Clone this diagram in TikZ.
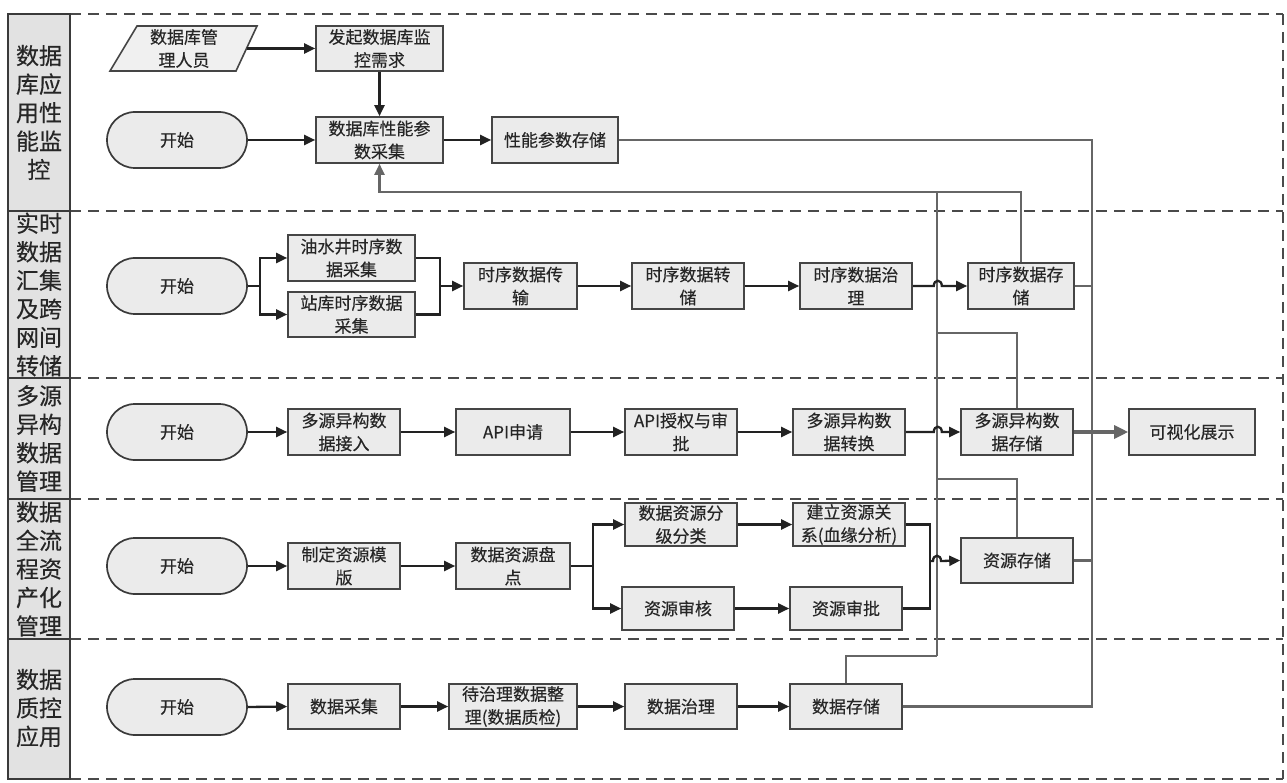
\documentclass[tikz,border=0pt]{standalone}
\usepackage{fontspec}
\setmainfont{Noto Sans CJK SC}[FakeBold=0.3]
\usetikzlibrary{arrows.meta,calc}
\definecolor{boxfill}{HTML}{EBEBEB}
\definecolor{boxline}{HTML}{454545}
\definecolor{txt}{HTML}{262626}
\definecolor{arrc}{HTML}{222222}
\definecolor{fbc}{HTML}{666666}
\definecolor{dashc}{HTML}{4A4A4A}
\definecolor{colfill}{HTML}{E2E2E2}
\definecolor{colline}{HTML}{3A3A3A}
\definecolor{parafill}{HTML}{F0F0F0}
\begin{document}
\begin{tikzpicture}[x=1pt,y=-1pt,
  box/.style={draw=boxline, fill=boxfill, line width=1.6pt, minimum height=46pt,
    inner sep=0pt, align=center, font=\fontsize{17}{23}\selectfont, text=txt},
  startnode/.style={box, rounded corners=28pt, minimum width=140pt, minimum height=56pt,
    line width=1.7pt, draw=colline},
  lanelabel/.style={align=center, inner sep=0pt, font=\fontsize{23}{28.5}\selectfont, text=txt},
  arr/.style={draw=arrc, line width=2.3pt, -{Triangle[length=11pt,width=10pt]}},
  ln/.style={draw=arrc, line width=2.3pt},
  fb/.style={draw=fbc, line width=2.2pt},
  fbarr/.style={fb, -{Triangle[length=11pt,width=10pt]}},
  visarr/.style={draw=fbc, line width=3.2pt, -{Triangle[length=14pt,width=13pt]}},
  lanesep/.style={draw=dashc, line width=2.8pt, dash pattern=on 11pt off 7pt}
]
\useasboundingbox (0,0) rectangle (1287,783);
\fill[white] (0,0) rectangle (1287,783);

% lane frame
\draw[lanesep] (70,14) -- (1283,14);
\draw[lanesep] (70,211) -- (1283,211);
\draw[lanesep] (70,378) -- (1283,378);
\draw[lanesep] (70,499) -- (1283,499);
\draw[lanesep] (70,639) -- (1283,639);
\draw[lanesep] (70,779) -- (1283,779);
\draw[lanesep] (1283,14) -- (1283,779);
\draw[fill=colfill, draw=colline, line width=2pt] (8,14) rectangle (70,779);
\foreach \yy in {211,378,499,639} \draw[draw=colline, line width=2pt] (8,\yy) -- (70,\yy);

% lane labels
\node[lanelabel] (L1) at (39,112.5) {数据\\库应\\用性\\能监\\控};
\node[lanelabel] (L2) at (39,294.5) {实时\\数据\\汇集\\及跨\\网间\\转储};
\node[lanelabel] (L3) at (39,438.5) {多源\\异构\\数据\\管理};
\node[lanelabel] (L4) at (39,569) {数据\\全流\\程资\\产化\\管理};
\node[lanelabel] (L5) at (39,708) {数据\\质控\\应用};

% lane 1
\draw[draw=boxline, fill=parafill, line width=1.6pt] (110,71) -- (137,26) -- (257,26) -- (236,71) -- cycle;
\node[align=center, inner sep=0pt, minimum width=125pt, minimum height=45pt,
  font=\fontsize{17}{23}\selectfont, text=txt] (admin) at (184,48.5) {数据库管\\理人员};
\node[box, minimum width=127pt, minimum height=45pt] (req) at (379.5,48.5) {发起数据库监\\控需求};
\node[startnode] (s1) at (177,140) {开始};
\node[box, minimum width=127pt] (collect) at (379.5,140) {数据库性能参\\数采集};
\node[box, minimum width=126pt] (perfstore) at (555,140) {性能参数存储};

% lane 2
\node[startnode] (s2) at (177,286) {开始};
\node[box, minimum width=127pt] (oilwell) at (351.5,258) {油水井时序数\\据采集};
\node[box, minimum width=127pt, minimum height=45pt] (station) at (351.5,314.5) {站库时序数据\\采集};
\node[box, minimum width=113pt] (tsxfer) at (520.5,286) {时序数据传\\输};
\node[box, minimum width=112pt] (tsdump) at (688,286) {时序数据转\\储};
\node[box, minimum width=112pt] (tsgov) at (856,286) {时序数据治\\理};
\node[box, minimum width=106pt] (tsstore) at (1021,286) {时序数据存\\储};

% lane 3
\node[startnode] (s3) at (177,432) {开始};
\node[box, minimum width=112pt] (msaccess) at (344,432) {多源异构数\\据接入};
\node[box, minimum width=114pt] (apireq) at (513,432) {API申请};
\node[box, minimum width=112pt] (apiauth) at (681,432) {API授权与审\\批};
\node[box, minimum width=112pt] (msconv) at (849,432) {多源异构数\\据转换};
\node[box, minimum width=112pt] (msstore) at (1017,432) {多源异构数\\据存储};
\node[box, minimum width=126pt] (visual) at (1192,432) {可视化展示};

% lane 4
\node[startnode] (s4) at (177,566) {开始};
\node[box, minimum width=112pt] (tmpl) at (344,566) {制定资源模\\版};
\node[box, minimum width=114pt] (inventory) at (513,566) {数据资源盘\\点};
\node[box, minimum width=112pt, minimum height=43pt] (classify) at (681,524.5) {数据资源分\\级分类};
\node[box, minimum width=112pt, minimum height=43pt] (lineage) at (849,524.5) {建立资源关\\系(血缘分析)};
\node[box, minimum width=112pt, minimum height=43pt] (audit) at (678,608.5) {资源审核};
\node[box, minimum width=112pt, minimum height=43pt] (approve) at (846,608.5) {资源审批};
\node[box, minimum width=112pt, minimum height=45pt] (resstore) at (1017,560.5) {资源存储};

% lane 5
\node[startnode] (s5) at (177,707) {开始};
\node[box, minimum width=112pt, minimum height=45pt] (dcollect) at (344,706.5) {数据采集};
\node[box, minimum width=128pt, minimum height=45pt] (organize) at (513,706.5) {待治理数据整\\理(数据质检)};
\node[box, minimum width=112pt, minimum height=45pt] (govern) at (681,706.5) {数据治理};
\node[box, minimum width=112pt, minimum height=45pt] (dstore) at (846,706.5) {数据存储};

% helper coordinates
\coordinate (fbL) at (379.5,192);
\coordinate (fbA) at (937,192);
\coordinate (fbA3) at (937,333);
\coordinate (fbA4) at (937,479);
\coordinate (fbA5) at (937,656);
\coordinate (B1) at (1092,140);
\coordinate (B5) at (1092,706.5);
\coordinate (sp2) at (260,286);
\coordinate (mg2) at (440,286);
\coordinate (sp4) at (593,566);
\coordinate (mg4) at (930,561);

% feedback lines (grey)
\draw[fb] (fbA5) -- (fbA);
\draw[fb] (dstore.north) |- (fbA5);
\draw[fb] (msstore.north) |- (fbA3);
\draw[fb] (resstore.north) |- (fbA4);
\draw[fbarr] (tsstore.north) |- (fbL) -- (collect.south);

% visualisation lines (grey)
\draw[fb] (perfstore.east) -- (B1) -- (B5) -- (dstore.east);
\draw[fb] (tsstore.east) -- (tsstore.east -| B1);
\draw[fb] (resstore.east) -- (resstore.east -| B1);
\draw[visarr] (msstore.east) -- (visual.west);

% lane 1 arrows
\draw[arr] (admin.east) -- (req.west);
\draw[arr] (req.south) -- (collect.north);
\draw[arr] (s1.east) -- (collect.west);
\draw[arr] (collect.east) -- (perfstore.west);

% lane 2 arrows
\draw[ln] (s2.east) -- (sp2);
\draw[arr] (sp2) |- (oilwell.west);
\draw[arr] (sp2) |- (station.west);
\draw[ln] (oilwell.east) -| (mg2);
\draw[ln] (station.east) -| (mg2);
\draw[arr] (mg2) -- (tsxfer.west);
\draw[arr] (tsxfer.east) -- (tsdump.west);
\draw[arr] (tsdump.east) -- (tsgov.west);
\draw[arr] (tsgov.east) -- ++(21,0) .. controls +(0,-7) and +(0,-7) .. ++(8,0) -- (tsstore.west);

% lane 3 arrows
\draw[arr] (s3.east) -- (msaccess.west);
\draw[arr] (msaccess.east) -- (apireq.west);
\draw[arr] (apireq.east) -- (apiauth.west);
\draw[arr] (apiauth.east) -- (msconv.west);
\draw[arr] (msconv.east) -- ++(28,0) .. controls +(0,-7) and +(0,-7) .. ++(8,0) -- (msstore.west);

% lane 4 arrows
\draw[arr] (s4.east) -- (tmpl.west);
\draw[arr] (tmpl.east) -- (inventory.west);
\draw[ln] (inventory.east) -- (sp4);
\draw[arr] (sp4) |- (classify.west);
\draw[arr] (sp4) |- (audit.west);
\draw[arr] (classify.east) -- (lineage.west);
\draw[arr] (audit.east) -- (approve.west);
\draw[ln] (lineage.east) -| (mg4);
\draw[ln] (approve.east) -| (mg4);
\draw[arr] (mg4) -- ++(3,0) .. controls +(0,-7) and +(0,-7) .. ++(8,0) -- (resstore.west);

% lane 5 arrows
\draw[arr] (s5.east) -- (dcollect.west);
\draw[arr] (dcollect.east) -- (organize.west);
\draw[arr] (organize.east) -- (govern.west);
\draw[arr] (govern.east) -- (dstore.west);
\end{tikzpicture}
\end{document}
